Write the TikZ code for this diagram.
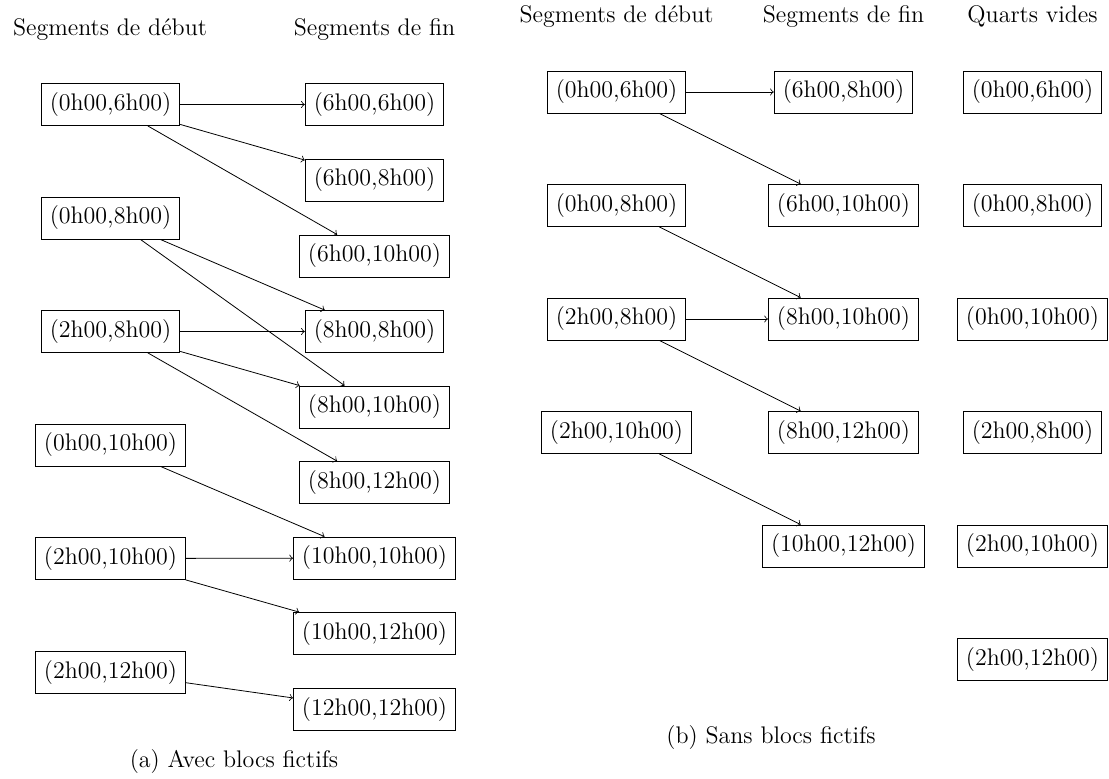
\documentclass[tikz,border=0pt]{standalone}
\begin{document}
\begin{tikzpicture}[x=0.5pt,y=-0.5pt,
  font=\fontsize{12}{14.4}\selectfont,
  seg/.style={draw, line width=0.4pt, inner xsep=4.3pt, inner ysep=0pt, minimum height=21pt},
  hdr/.style={anchor=base, inner sep=0pt},
  captext/.style={inner sep=0pt},
  conn/.style={->, line width=0.4pt}]
\useasboundingbox (0,0) rectangle (1109,778);

% ---------- (a) Avec blocs fictifs ----------
\node[hdr] (ha1) at (110,35) {Segments de début};
\node[hdr] (ha2) at (374.5,35) {Segments de fin};

\node[seg] (aS1) at (110.5,104.5) {(0h00,6h00)};
\node[seg] (aS2) at (110.5,218) {(0h00,8h00)};
\node[seg] (aS3) at (110.5,331.5) {(2h00,8h00)};
\node[seg] (aS4) at (110.5,445) {(0h00,10h00)};
\node[seg] (aS5) at (110.5,558.5) {(2h00,10h00)};
\node[seg] (aS6) at (110.5,672) {(2h00,12h00)};

\node[seg] (aE1) at (374.5,104.5) {(6h00,6h00)};
\node[seg] (aE2) at (374.5,180) {(6h00,8h00)};
\node[seg] (aE3) at (374.5,256) {(6h00,10h00)};
\node[seg] (aE4) at (374.5,331.5) {(8h00,8h00)};
\node[seg] (aE5) at (374.5,407) {(8h00,10h00)};
\node[seg] (aE6) at (374.5,482.5) {(8h00,12h00)};
\node[seg] (aE7) at (374.5,558) {(10h00,10h00)};
\node[seg] (aE8) at (374.5,633.5) {(10h00,12h00)};
\node[seg] (aE9) at (374.5,709.5) {(12h00,12h00)};

\draw[conn] (aS1) -- (aE1);
\draw[conn] (aS1) -- (aE2);
\draw[conn] (aS1) -- (aE3);
\draw[conn] (aS2) -- (aE4);
\draw[conn] (aS2) -- (aE5);
\draw[conn] (aS3) -- (aE4);
\draw[conn] (aS3) -- (aE5);
\draw[conn] (aS3) -- (aE6);
\draw[conn] (aS4) -- (aE7);
\draw[conn] (aS5) -- (aE7);
\draw[conn] (aS5) -- (aE8);
\draw[conn] (aS6) -- (aE9);

\node[captext] (capa) at (234,761) {(a) Avec blocs fictifs};

% ---------- (b) Sans blocs fictifs ----------
\node[hdr] (hb1) at (616.5,22) {Segments de début};
\node[hdr] (hb2) at (843.5,22) {Segments de fin};
\node[hdr] (hb3) at (1032.5,22) {Quarts vides};

\node[seg] (bS1) at (616.5,92) {(0h00,6h00)};
\node[seg] (bS2) at (616.5,205.5) {(0h00,8h00)};
\node[seg] (bS3) at (616.5,319) {(2h00,8h00)};
\node[seg] (bS4) at (616.5,432.5) {(2h00,10h00)};

\node[seg] (bE1) at (843.5,92) {(6h00,8h00)};
\node[seg] (bE2) at (843.5,205.5) {(6h00,10h00)};
\node[seg] (bE3) at (843.5,319) {(8h00,10h00)};
\node[seg] (bE4) at (843.5,432.5) {(8h00,12h00)};
\node[seg] (bE5) at (843.5,546) {(10h00,12h00)};

\node[seg] (bQ1) at (1032.5,92) {(0h00,6h00)};
\node[seg] (bQ2) at (1032.5,205.5) {(0h00,8h00)};
\node[seg] (bQ3) at (1032.5,319) {(0h00,10h00)};
\node[seg] (bQ4) at (1032.5,432.5) {(2h00,8h00)};
\node[seg] (bQ5) at (1032.5,546) {(2h00,10h00)};
\node[seg] (bQ6) at (1032.5,659) {(2h00,12h00)};

\draw[conn] (bS1) -- (bE1);
\draw[conn] (bS1) -- (bE2);
\draw[conn] (bS2) -- (bE3);
\draw[conn] (bS3) -- (bE3);
\draw[conn] (bS3) -- (bE4);
\draw[conn] (bS4) -- (bE5);

\node[captext] (capb) at (771,737) {(b) Sans blocs fictifs};
\end{tikzpicture}
\end{document}
